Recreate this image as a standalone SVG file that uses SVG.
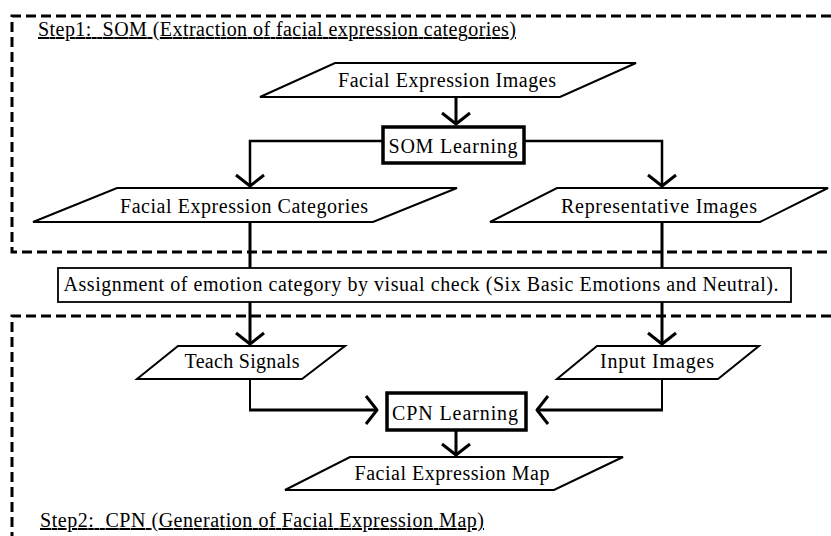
<svg xmlns="http://www.w3.org/2000/svg" width="831" height="536" viewBox="0 0 831 536">
<style>
text{font-family:"Liberation Serif","Times New Roman",serif;font-size:20px;fill:#000}
.c{text-anchor:middle}
.u{text-decoration:underline}
.para{fill:#fff;stroke:#000;stroke-width:2}
.box{fill:#fff;stroke:#000;stroke-width:3.5}
.thin{fill:#fff;stroke:#000;stroke-width:1.8}
.dash{fill:none;stroke:#000;stroke-width:3;stroke-dasharray:10 5}
.conn{fill:none;stroke:#000;stroke-width:3}
</style>
<defs>
<marker id="arr" markerUnits="userSpaceOnUse" markerWidth="30" markerHeight="32" viewBox="-16 -16 30 32" refX="0" refY="0" orient="auto" overflow="visible">
<path d="M-11,-14 L0,0 L-11,14" fill="none" stroke="#000" stroke-width="3" stroke-linejoin="round"/>
</marker>
</defs>
<g id="regions">
<path class="dash" d="M831,16 L12,16 L12,252 L831,252"/>
<path class="dash" d="M831,316 L12,316 L12,536"/>
</g>
<g id="connectors">
<path class="conn" d="M456,97 L456,124" marker-end="url(#arr)"/>
<path class="conn" style="stroke-width:2.5" d="M383,141 L250,141 L250,186" marker-end="url(#arr)"/>
<path class="conn" style="stroke-width:2.5" d="M524,141 L662,141 L662,186" marker-end="url(#arr)"/>
<path class="conn" d="M250,222 L250,268"/>
<path class="conn" d="M662,222 L662,268"/>
<path class="conn" d="M250,302 L250,344" marker-end="url(#arr)"/>
<path class="conn" d="M662,302 L662,344" marker-end="url(#arr)"/>
<path class="conn" style="stroke-width:2" d="M250,379 L250,410"/>
<path class="conn" d="M249,410 L377,410" marker-end="url(#arr)"/>
<path class="conn" style="stroke-width:2" d="M662,379 L662,410"/>
<path class="conn" d="M663,410 L537,410" marker-end="url(#arr)"/>
<path class="conn" d="M456,430 L456,455" marker-end="url(#arr)"/>
</g>
<g id="step1-label"><text class="u" x="38" y="36" textLength="478">Step1:&#160; SOM (Extraction of facial expression categories)</text></g>
<g id="facial-expression-images">
<polygon class="para" points="335,63 636,63 560,97 260,97"/>
<text class="c" x="447" y="87" textLength="218">Facial Expression Images</text>
</g>
<g id="som-learning">
<rect class="box" x="383" y="127" width="141" height="36"/>
<text class="c" x="453" y="153" textLength="129">SOM Learning</text>
</g>
<g id="facial-expression-categories">
<polygon class="para" points="117,188 457,188 373,222 33,222"/>
<text class="c" x="244" y="213" textLength="248">Facial Expression Categories</text>
</g>
<g id="representative-images">
<polygon class="para" points="557,188 828,188 760,222 490,222"/>
<text class="c" x="659" y="213" textLength="196">Representative Images</text>
</g>
<g id="assignment">
<rect class="thin" x="58" y="268" width="733" height="34"/>
<text class="c" x="421" y="291" textLength="715">Assignment of emotion category by visual check (Six Basic Emotions and Neutral).</text>
</g>
<g id="teach-signals">
<polygon class="para" points="178,346 345,346 302,379 137,379"/>
<text class="c" x="242" y="368" textLength="115">Teach Signals</text>
</g>
<g id="input-images">
<polygon class="para" points="597,346 759,346 718,379 557,379"/>
<text class="c" x="657" y="368" textLength="114">Input Images</text>
</g>
<g id="cpn-learning">
<rect class="box" x="387" y="393" width="139" height="37"/>
<text class="c" x="455" y="420" textLength="126">CPN Learning</text>
</g>
<g id="facial-expression-map">
<polygon class="para" points="350,457 623,457 554,490 285,490"/>
<text class="c" x="452" y="480" textLength="195">Facial Expression Map</text>
</g>
<g id="step2-label"><text class="u" x="40" y="527" textLength="444">Step2:&#160; CPN (Generation of Facial Expression Map)</text></g>
</svg>
